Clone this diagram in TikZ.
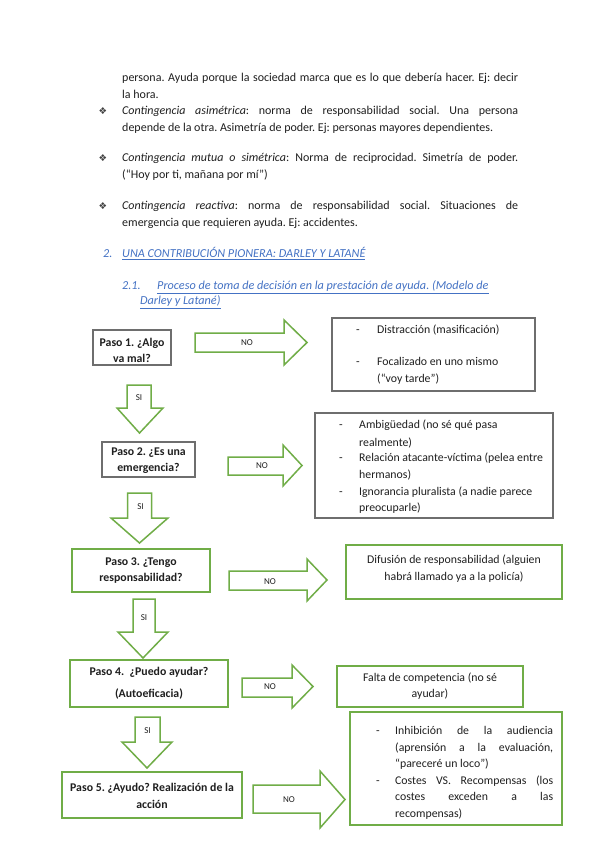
\documentclass[tikz,border=0pt]{standalone}
\usepackage{fontspec}
\setmainfont{Carlito}
\newfontfamily\dejavu{DejaVu Sans}
\definecolor{txt}{HTML}{1F1F1F}
\definecolor{hblue}{HTML}{4472C4}
\definecolor{grn}{HTML}{70AD47}
\definecolor{gry}{HTML}{6E6E6E}
\newcommand\jline[2]{\makebox[#1][s]{#2}}
\frenchspacing
\begin{document}
\frenchspacing
\begin{tikzpicture}[x=1pt,y=-1pt,
  every node/.style={inner sep=0pt, text=txt},
  body/.style={anchor=base west, font=\fontsize{12}{14}\selectfont},
  headtxt/.style={anchor=base west, text=hblue, font=\fontsize{12.2}{14}\selectfont\itshape},
  bul/.style={anchor=base, text=txt!85, font=\dejavu\fontsize{9.5}{10}\selectfont},
  graybox/.style={draw=gry, line width=1.1pt, fill=white, rectangle},
  greenbox/.style={draw=grn, line width=1.5pt, fill=white, rectangle},
  steptxt/.style={anchor=base, font=\fontsize{11.8}{13}\selectfont\bfseries},
  rtxt/.style={anchor=base west, font=\fontsize{11.8}{13}\selectfont},
  ctxt/.style={anchor=base, font=\fontsize{11.8}{13}\selectfont},
  blk/.style={draw=grn, line width=1.5pt, fill=white, line join=miter},
  lab/.style={anchor=center, font=\fontsize{9}{10}\selectfont}]
\fill[white] (0,0) rectangle (599,848);
\useasboundingbox (0,0) rectangle (599,848);

% ---------- body text ----------
\node[body] (l1) at (122,81.5) {\jline{396pt}{persona. Ayuda porque la sociedad marca que es lo que debería hacer. Ej: decir}};
\node[body] (l2) at (122,98.5) {la hora.};
\node[bul] (b1) at (103,114.5) {❖};
\node[body] (l3) at (122,114.5) {\jline{396pt}{\textit{Contingencia asimétrica}: norma de responsabilidad social. Una persona}};
\node[body] (l4) at (122,131.5) {depende de la otra. Asimetría de poder. Ej: personas mayores dependientes.};
\node[bul] (b2) at (103,161.5) {❖};
\node[body] (l5) at (122,161.5) {\jline{396pt}{\textit{Contingencia mutua o simétrica}: Norma de reciprocidad. Simetría de poder.}};
\node[body] (l6) at (122,178.5) {(“Hoy por ti, mañana por mí”)};
\node[bul] (b3) at (103,209.5) {❖};
\node[body] (l7) at (122,209.5) {\jline{396pt}{\textit{Contingencia reactiva}: norma de responsabilidad social. Situaciones de}};
\node[body] (l8) at (122,226.5) {emergencia que requieren ayuda. Ej: accidentes.};

% ---------- headings ----------
\node[headtxt] (h1n) at (103,257.5) {2.};
\node[headtxt] (h1) at (122,257.5) {\underline{UNA CONTRIBUCIÓN PIONERA: DARLEY Y LATANÉ}};
\node[headtxt] (h2n) at (122,289.5) {2.1.};
\node[headtxt] (h2) at (157,289.5) {\underline{Proceso de toma de decisión en la prestación de ayuda. (Modelo de}};
\node[headtxt] (h3) at (140,304.5) {\underline{Darley y Latané)}};

% ---------- step boxes ----------
\node[graybox, minimum width=78pt, minimum height=35pt] (p1) at (132,347.5) {};
\node[graybox, minimum width=93pt, minimum height=35pt] (p2) at (148.5,459.5) {};
\node[greenbox, minimum width=138pt, minimum height=43pt] (p3) at (141,570.5) {};
\node[greenbox, minimum width=158pt, minimum height=47pt] (p4) at (149,683.5) {};
\node[greenbox, minimum width=180pt, minimum height=46pt] (p5) at (152,795) {};

\node[steptxt] (p1a) at (132,346.5) {Paso 1. ¿Algo};
\node[steptxt] (p1b) at (132,362.5) {va mal?};
\node[steptxt] (p2a) at (148.5,455.5) {Paso 2. ¿Es una};
\node[steptxt] (p2b) at (148.5,471.5) {emergencia?};
\node[steptxt] (p3a) at (141,565.5) {Paso 3. ¿Tengo};
\node[steptxt] (p3b) at (141,581.5) {responsabilidad?};
\node[steptxt] (p4a) at (149,675.5) {Paso 4.\ \ ¿Puedo ayudar?};
\node[steptxt] (p4b) at (149,697.5) {(Autoeficacia)};
\node[steptxt] (p5a) at (152,791.5) {Paso 5. ¿Ayudo? Realización de la};
\node[steptxt] (p5b) at (152,808.5) {acción};

% ---------- result boxes ----------
\node[graybox, minimum width=203pt, minimum height=73pt] (r1) at (433.5,354.5) {};
\node[graybox, minimum width=238pt, minimum height=105pt] (r2) at (434,465.5) {};
\node[greenbox, minimum width=216pt, minimum height=54pt] (r3) at (454,572) {};
\node[greenbox, minimum width=186pt, minimum height=41pt] (r4) at (430,686.5) {};
\node[greenbox, minimum width=212pt, minimum height=113pt] (r5) at (456,768.5) {};

\node[ctxt] (r1d1) at (358,333.5) {-};
\node[rtxt] (r1a) at (377,333.5) {Distracción (masificación)};
\node[ctxt] (r1d2) at (358,365.5) {-};
\node[rtxt] (r1b) at (377,365.5) {Focalizado en uno mismo};
\node[rtxt] (r1c) at (377,382.5) {(“voy tarde”)};

\node[ctxt] (r2d1) at (341,428.5) {-};
\node[rtxt] (r2a) at (359,428.5) {Ambigüedad (no sé qué pasa};
\node[rtxt] (r2b) at (359,446.5) {realmente)};
\node[ctxt] (r2d2) at (341,461.5) {-};
\node[rtxt] (r2c) at (359,461.5) {Relación atacante-víctima (pelea entre};
\node[rtxt] (r2e) at (359,478.5) {hermanos)};
\node[ctxt] (r2d3) at (341,495.5) {-};
\node[rtxt] (r2f) at (359,495.5) {Ignorancia pluralista (a nadie parece};
\node[rtxt] (r2g) at (359,511.5) {preocuparle)};

\node[ctxt] (r3a) at (454,563.5) {Difusión de responsabilidad (alguien};
\node[ctxt] (r3b) at (454,580.5) {habrá llamado ya a la policía)};

\node[ctxt] (r4a) at (430,681.5) {Falta de competencia (no sé};
\node[ctxt] (r4b) at (430,697.5) {ayudar)};

\node[ctxt] (r5d1) at (378,734.5) {-};
\node[rtxt] (r5a) at (395,734.5) {\jline{158pt}{Inhibición de la audiencia}};
\node[rtxt] (r5b) at (395,751) {\jline{158pt}{(aprensión a la evaluación,}};
\node[rtxt] (r5c) at (395,767.5) {“pareceré un loco”)};
\node[ctxt] (r5d2) at (378,784) {-};
\node[rtxt] (r5e) at (395,784) {\jline{158pt}{Costes VS. Recompensas (los}};
\node[rtxt] (r5f) at (395,800.5) {\jline{158pt}{costes exceden a las}};
\node[rtxt] (r5g) at (395,817) {recompensas)};

% ---------- NO arrows ----------
\draw[blk] (195,333) -- (284,333) -- (284,320) -- (307,342.5) -- (284,365) -- (284,352) -- (195,352) -- cycle;
\draw[blk] (228,457) -- (283,457) -- (283,445) -- (302,465.5) -- (283,486) -- (283,475) -- (228,475) -- cycle;
\draw[blk] (229,571) -- (307,571) -- (307,559) -- (327,580) -- (307,601) -- (307,590) -- (229,590) -- cycle;
\draw[blk] (242,678) -- (292,678) -- (292,665) -- (313,686.5) -- (292,708) -- (292,697) -- (242,697) -- cycle;
\draw[blk] (253,785) -- (320,785) -- (320,771) -- (345,799.5) -- (320,828) -- (320,813) -- (253,813) -- cycle;
\node[lab] (no1) at (247,342.5) {NO};
\node[lab] (no2) at (262,466) {NO};
\node[lab] (no3) at (270,582) {NO};
\node[lab] (no4) at (270,687) {NO};
\node[lab] (no5) at (289,800) {NO};

% ---------- SI arrows ----------
\draw[blk] (127,385) -- (151,385) -- (151,408) -- (163,408) -- (139.5,433) -- (117,408) -- (127,408) -- cycle;
\draw[blk] (127.5,493) -- (151.5,493) -- (151.5,518) -- (168,518) -- (139.5,543) -- (111,518) -- (127.5,518) -- cycle;
\draw[blk] (133,599) -- (155,599) -- (155,632) -- (168,632) -- (143,658) -- (118,632) -- (133,632) -- cycle;
\draw[blk] (135,717) -- (160,717) -- (160,742) -- (172,742) -- (147,768) -- (122,742) -- (135,742) -- cycle;
\node[lab] (si1) at (139,398) {SI};
\node[lab] (si2) at (140.5,507) {SI};
\node[lab] (si3) at (144,618) {SI};
\node[lab] (si4) at (147.5,731) {SI};
\end{tikzpicture}
\end{document}
